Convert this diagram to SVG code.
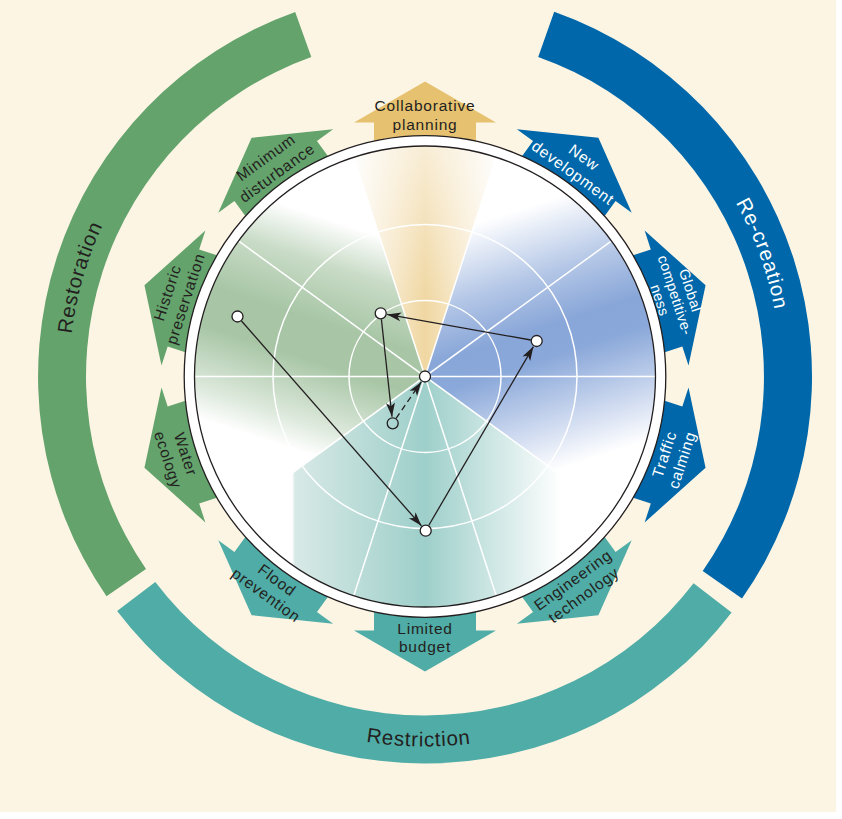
<svg xmlns="http://www.w3.org/2000/svg" xmlns:xlink="http://www.w3.org/1999/xlink" width="842" height="819" viewBox="0 0 842 819">
<style>
.bg{fill:#fdf5e4}
.g{fill:#64a36c}.t{fill:#50aca6}.b{fill:#0068aa}.y{fill:#e6c270}
.lbl{font-family:"Liberation Sans",Arial,sans-serif;font-size:15.5px;letter-spacing:0.8px;text-anchor:middle;fill:#231f20}
.sm{font-size:14.5px;letter-spacing:0.4px}
.wt{fill:#ffffff}
.arcl{font-family:"Liberation Sans",Arial,sans-serif;font-size:20.5px;letter-spacing:0.8px;text-anchor:middle;fill:#231f20}
.grid{stroke:#ffffff;stroke-width:1.5;fill:none}
.ring{fill:#ffffff;stroke:#231f20;stroke-width:1.3}
.rim{fill:none;stroke:#231f20;stroke-width:1.3}
.node{fill:#ffffff;stroke:#231f20;stroke-width:1.3}
.open{fill:none;stroke:#231f20;stroke-width:1.3}
.conn{stroke:#231f20;stroke-width:1.3;fill:none}
.dash{stroke-dasharray:6 4}
</style>
<defs>
<path id="arw" d="M-51,-225 L-51,-254 L-71,-254 L0,-295 L71,-254 L51,-254 L51,-225 Z"/>
<path id="pRest" d="M129.9,575.6 A356,356 0 0 1 280.2,51.3"/>
<path id="pRec" d="M546.8,42.0 A356,356 0 0 1 733.3,554.5"/>
<path id="pRestr" d="M137.5,609.3 A370,370 0 0 0 704.2,619.3"/>
<clipPath id="plot"><circle cx="425" cy="376.5" r="230.5"/></clipPath>
<linearGradient id="gG" gradientUnits="userSpaceOnUse" x1="483.7" y1="195.8" x2="366.3" y2="557.2">
<stop offset="0" stop-color="#ffffff"/>
<stop offset="0.184" stop-color="#ffffff"/>
<stop offset="0.303" stop-color="#c8dbc6"/>
<stop offset="0.447" stop-color="#a8c6a6"/>
<stop offset="0.553" stop-color="#a8c6a6"/>
<stop offset="0.71" stop-color="#dde9dc"/>
<stop offset="0.79" stop-color="#ffffff"/>
<stop offset="1" stop-color="#ffffff"/>
</linearGradient>
<linearGradient id="gB" gradientUnits="userSpaceOnUse" x1="366.3" y1="195.8" x2="483.7" y2="557.2">
<stop offset="0" stop-color="#ffffff"/>
<stop offset="0.158" stop-color="#ffffff"/>
<stop offset="0.342" stop-color="#b3c6e6"/>
<stop offset="0.474" stop-color="#88a6d8"/>
<stop offset="0.553" stop-color="#8aa8d9"/>
<stop offset="0.711" stop-color="#c9d6ee"/>
<stop offset="0.842" stop-color="#ffffff"/>
<stop offset="1" stop-color="#ffffff"/>
</linearGradient>
<linearGradient id="gT" gradientUnits="userSpaceOnUse" x1="288" y1="0" x2="562" y2="0">
<stop offset="0" stop-color="#ffffff"/>
<stop offset="0.015" stop-color="#ffffff"/>
<stop offset="0.025" stop-color="#d8e9e6"/>
<stop offset="0.5" stop-color="#9ecfca"/>
<stop offset="1" stop-color="#ffffff"/>
</linearGradient>
<linearGradient id="gY" gradientUnits="userSpaceOnUse" x1="348" y1="0" x2="502" y2="0">
<stop offset="0" stop-color="#ffffff"/>
<stop offset="0.5" stop-color="#f0d7a2"/>
<stop offset="1" stop-color="#ffffff"/>
</linearGradient>
<linearGradient id="gYv" gradientUnits="userSpaceOnUse" x1="0" y1="145" x2="0" y2="300">
<stop offset="0" stop-color="#ffffff" stop-opacity="0.55"/>
<stop offset="1" stop-color="#ffffff" stop-opacity="0"/>
</linearGradient>
<marker id="ah" markerUnits="userSpaceOnUse" markerWidth="14" markerHeight="10" viewBox="0 0 14 10" refX="14" refY="5" orient="auto">
<path d="M0,0.5 L14,5 L0,9.5 L3.5,5 Z" fill="#231f20"/>
</marker>
</defs>

<rect x="0" y="0" width="842" height="819" fill="#ffffff"/>
<rect class="bg" x="0" y="0" width="836" height="812"/>

<g id="band-restoration">
<path class="g" d="M295.2,11.9 A387,387 0 0 0 106.5,596.2 L146.0,569.0 A339,339 0 0 1 311.3,57.1 Z"/>
<text class="arcl"><textPath href="#pRest" xlink:href="#pRest" startOffset="50%">Restoration</textPath></text>
</g>
<g id="band-recreation">
<path class="b" d="M742.0,598.5 A387,387 0 0 0 554.2,11.7 L538.2,57.0 A339,339 0 0 1 702.7,570.9 Z"/>
<text class="arcl" style="fill:#ffffff"><textPath href="#pRec" xlink:href="#pRec" startOffset="50%">Re-creation</textPath></text>
</g>
<g id="band-restriction">
<path class="t" d="M117.1,611.0 A387,387 0 0 0 731.6,612.6 L693.6,583.3 A339,339 0 0 1 155.3,581.9 Z"/>
<text class="arcl"><textPath href="#pRestr" xlink:href="#pRestr" startOffset="50%">Restriction</textPath></text>
</g>

<g id="collaborative-planning" transform="translate(425,376.5) rotate(0)">
<use href="#arw" xlink:href="#arw" class="y"/>
<text class="lbl" x="0" y="-265.5">Collaborative</text>
<text class="lbl" x="0" y="-246.5">planning</text>
</g>
<g id="new-development" transform="translate(425,376.5) rotate(36)">
<use href="#arw" xlink:href="#arw" class="b"/>
<text class="lbl wt" x="0" y="-265.5">New</text>
<text class="lbl wt" x="0" y="-246.5">development</text>
</g>
<g id="global-competitiveness" transform="translate(425,376.5) rotate(72)">
<use href="#arw" xlink:href="#arw" class="b"/>
<text class="lbl sm wt" x="0" y="-274">Global</text>
<text class="lbl sm wt" x="0" y="-258">competitive-</text>
<text class="lbl sm wt" x="0" y="-242">ness</text>
</g>
<g id="traffic-calming" transform="translate(425,376.5) rotate(108)">
<use href="#arw" xlink:href="#arw" class="b"/>
<g transform="rotate(180)">
<text class="lbl wt" x="0" y="257">Traffic</text>
<text class="lbl wt" x="0" y="275.5">calming</text>
</g>
</g>
<g id="engineering-technology" transform="translate(425,376.5) rotate(144)">
<use href="#arw" xlink:href="#arw" class="t"/>
<g transform="rotate(180)">
<text class="lbl" x="0" y="257">Engineering</text>
<text class="lbl" x="0" y="275.5">technology</text>
</g>
</g>
<g id="limited-budget" transform="translate(425,376.5) rotate(180)">
<use href="#arw" xlink:href="#arw" class="t"/>
<g transform="rotate(180)">
<text class="lbl" x="0" y="257">Limited</text>
<text class="lbl" x="0" y="275.5">budget</text>
</g>
</g>
<g id="flood-prevention" transform="translate(425,376.5) rotate(216)">
<use href="#arw" xlink:href="#arw" class="t"/>
<g transform="rotate(180)">
<text class="lbl" x="0" y="257">Flood</text>
<text class="lbl" x="0" y="275.5">prevention</text>
</g>
</g>
<g id="water-ecology" transform="translate(425,376.5) rotate(252)">
<use href="#arw" xlink:href="#arw" class="g"/>
<g transform="rotate(180)">
<text class="lbl" x="0" y="257">Water</text>
<text class="lbl" x="0" y="275.5">ecology</text>
</g>
</g>
<g id="historic-preservation" transform="translate(425,376.5) rotate(-72)">
<use href="#arw" xlink:href="#arw" class="g"/>
<text class="lbl" x="0" y="-265.5">Historic</text>
<text class="lbl" x="0" y="-246.5">preservation</text>
</g>
<g id="minimum-disturbance" transform="translate(425,376.5) rotate(-36)">
<use href="#arw" xlink:href="#arw" class="g"/>
<text class="lbl" x="0" y="-265.5">Minimum</text>
<text class="lbl" x="0" y="-246.5">disturbance</text>
</g>

<g id="plot">
<circle class="ring" cx="425" cy="376.5" r="240.8"/>
<circle cx="425" cy="376.5" r="230.5" fill="#ffffff"/>
<g clip-path="url(#plot)">
<path fill="url(#gG)" d="M425,376.5 L353.6,156.8 A231,231 0 0 0 238.1,512.3 Z"/>
<path fill="url(#gB)" d="M425,376.5 L611.9,512.3 A231,231 0 0 0 496.4,156.8 Z"/>
<path fill="url(#gT)" d="M425,376.5 L238.1,512.3 A231,231 0 0 0 611.9,512.3 Z"/>
<path fill="url(#gY)" d="M425,376.5 L496.4,156.8 A231,231 0 0 0 353.6,156.8 Z"/>
<path fill="url(#gYv)" d="M425,376.5 L496.4,156.8 A231,231 0 0 0 353.6,156.8 Z"/>
<g class="grid">
<circle cx="425" cy="376.5" r="76"/>
<circle cx="425" cy="376.5" r="152"/>
<line x1="194" y1="376.5" x2="656" y2="376.5"/>
<line x1="611.9" y1="240.7" x2="238.1" y2="512.3"/>
<line x1="496.4" y1="156.8" x2="353.6" y2="596.2"/>
<line x1="353.6" y1="156.8" x2="496.4" y2="596.2"/>
<line x1="238.1" y1="240.7" x2="611.9" y2="512.3"/>
</g>
</g>
<circle class="rim" cx="425" cy="376.5" r="230.5"/>
</g>

<g id="connectors">
<line class="conn" x1="241.5" y1="321.0" x2="421.4" y2="525.8" marker-end="url(#ah)"/>
<line class="conn" x1="428.7" y1="525.5" x2="533.4" y2="346.6" marker-end="url(#ah)"/>
<line class="conn" x1="530.8" y1="340.0" x2="387.1" y2="314.4" marker-end="url(#ah)"/>
<line class="conn" x1="381.4" y1="319.3" x2="392.0" y2="416.8" marker-end="url(#ah)"/>
<line class="conn dash" x1="396.1" y1="418.4" x2="421.3" y2="381.9" marker-end="url(#ah)"/>
</g>

<g id="node-center"><circle class="node" cx="425" cy="376.5" r="5.5"/></g>
<g id="node-minimum"><circle class="node" cx="380.7" cy="313.3" r="5.5"/></g>
<g id="node-global"><circle class="node" cx="536.7" cy="341" r="5.5"/></g>
<g id="node-budget"><circle class="node" cx="425.7" cy="530.7" r="5.5"/></g>
<g id="node-historic"><circle class="node" cx="237.5" cy="316.5" r="5.5"/></g>
<g id="node-flood"><circle class="open" cx="392.7" cy="423.3" r="5.5"/></g>
</svg>
